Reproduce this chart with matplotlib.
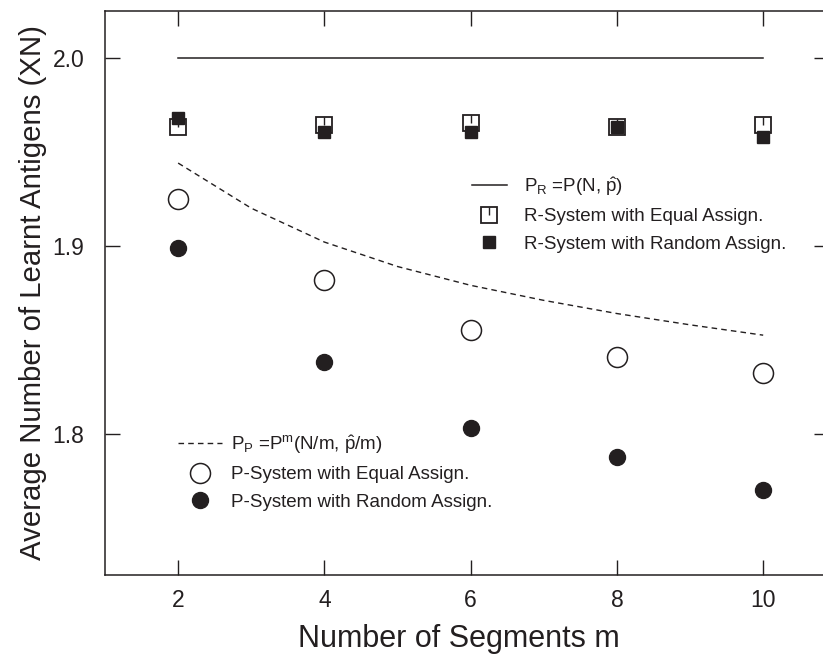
import numpy as np
import matplotlib
matplotlib.use("Agg")
import matplotlib.pyplot as plt
from matplotlib.path import Path

plt.rcParams['font.family'] = ['Liberation Sans', 'DejaVu Sans']
plt.rcParams['mathtext.fontset'] = 'custom'
plt.rcParams['mathtext.rm'] = 'Liberation Sans'
plt.rcParams['mathtext.it'] = 'Liberation Sans:italic'

ink = '#231f20'

# data
m = [2, 4, 6, 8, 10]
r_theory = [2.0, 2.0, 2.0, 2.0, 2.0]
r_equal = [1.963, 1.9645, 1.9655, 1.963, 1.9642]
r_random = [1.968, 1.9607, 1.9607, 1.963, 1.9576]

m_curve = [2, 3, 4, 5, 6, 7, 8, 9, 10]
p_theory = [1.944, 1.920, 1.902, 1.889, 1.879, 1.871, 1.864, 1.858, 1.8525]
p_equal = [1.925, 1.8817, 1.855, 1.841, 1.8324]
p_random = [1.8987, 1.838, 1.8032, 1.7878, 1.770]

# small tick from centre to top of the open square
tick_up = Path([(0, 0), (0, 1)], [Path.MOVETO, Path.LINETO])

fig = plt.figure(figsize=(8.23, 6.57), dpi=100)
ax = fig.add_axes([105/823, 1-575/657, 724/823, (575-10.7)/657])

l_r, = ax.plot(m, r_theory, '-', color=ink, lw=1.1)
sq_open, = ax.plot(m, r_equal, 's', ms=12, mfc='none', mec=ink, mew=1.3, ls='none')
sq_tick, = ax.plot(m, r_equal, ls='none', marker=tick_up, ms=12, mec=ink, mew=1.0)
sq_fill, = ax.plot(m, r_random, 's', ms=8.6, mfc=ink, mec=ink, ls='none')

l_p, = ax.plot(m_curve, p_theory, '--', color=ink, lw=1.0, dashes=(4, 3))
c_open, = ax.plot(m, p_equal, 'o', ms=14.4, mfc='none', mec=ink, mew=1.1, ls='none')
c_fill, = ax.plot(m, p_random, 'o', ms=11.5, mfc=ink, mec=ink, ls='none')

ax.set_xlim(1, 10.9)
ax.set_ylim(1.725, 2.025)
ax.set_xticks([2, 4, 6, 8, 10])
ax.set_yticks([1.8, 1.9, 2.0])
ax.set_yticklabels(['1.8', '1.9', '2.0'])
ax.tick_params(direction='in', length=11, width=1.0, colors=ink, labelsize=16.5,
               top=True, right=True)
ax.tick_params(axis='x', pad=10)
ax.tick_params(axis='y', pad=15)
for s in ax.spines.values():
    s.set_color(ink)
    s.set_linewidth(1.1)

ax.set_xlabel('Number of Segments m', fontsize=22, color=ink, labelpad=9)
ax.xaxis.label.set_x((459 - 105) / 724)
ax.set_ylabel('Average Number of Learnt Antigens (XN)', fontsize=21.2, color=ink, labelpad=4)

leg1 = ax.legend([l_r, (sq_open, sq_tick), sq_fill],
                 [r'P$_\mathregular{R}$ =P(N, $\hat{\mathregular{p}}$)',
                  'R-System with Equal Assign.',
                  'R-System with Random Assign.'],
                 loc='upper left', bbox_to_anchor=(472/823, 1-175/657),
                 bbox_transform=fig.transFigure, frameon=False, fontsize=13.5,
                 handlelength=1.85, handletextpad=0.95, labelspacing=0.55,
                 borderpad=0, borderaxespad=0, labelcolor=ink)
ax.add_artist(leg1)
ax.legend([l_p, c_open, c_fill],
          [r'P$_\mathregular{P}$ =P$^\mathregular{m}$(N/m, $\hat{\mathregular{p}}$/m)',
           'P-System with Equal Assign.',
           'P-System with Random Assign.'],
          loc='upper left', bbox_to_anchor=(178/823, 1-433/657),
          bbox_transform=fig.transFigure, frameon=False, fontsize=13.5,
          handlelength=2.35, handletextpad=0.5, labelspacing=0.55,
          borderpad=0, borderaxespad=0, labelcolor=ink)

fig.savefig('out.png', dpi=100)
